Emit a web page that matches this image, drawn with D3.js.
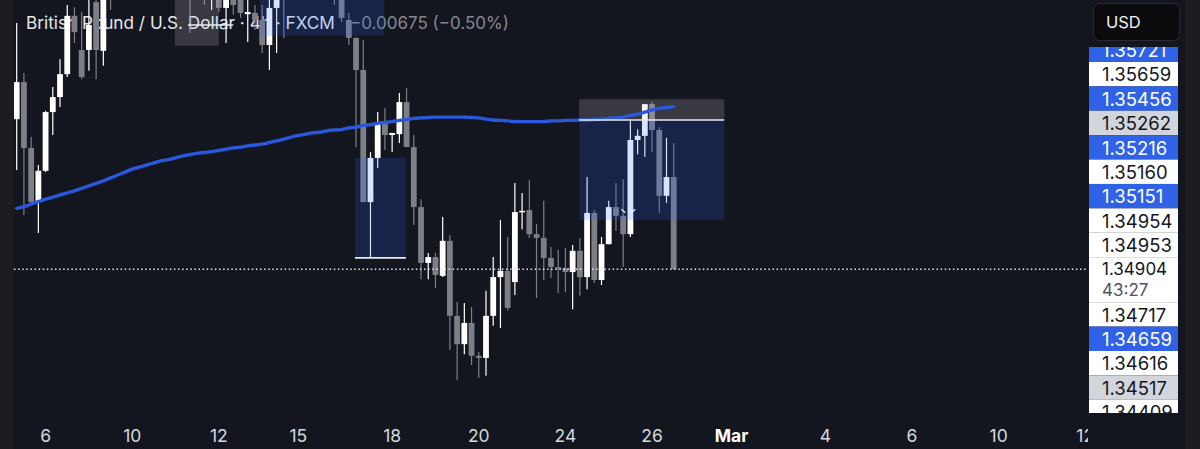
<!DOCTYPE html>
<html><head><meta charset="utf-8">
<script src="https://cdn.jsdelivr.net/npm/d3@7"></script>
<style>html,body{margin:0;padding:0;background:#14161f;}svg{display:block;}</style>
</head><body>
<script>
// ---- data (GBPUSD 4h, FXCM) ----
const openP = [
1.35264,1.35353,1.35195,1.35065,1.35140,1.35281,1.35317,1.35372,1.35512,1.35430,
1.35430,1.35545,1.35428,1.35610,1.35575,1.35620,1.35680,1.35640,1.35700,1.35660,
1.35620,1.35680,1.35640,1.35610,1.35622,1.35562,1.35600,1.35580,1.35586,1.35531,
1.35574,1.35555,1.35516,1.35519,1.35502,1.35442,1.35531,1.35574,1.35560,1.35610,
1.35650,1.35620,1.35590,1.35630,1.35598,1.35550,1.35502,1.35459,1.35382,1.35065,
1.35171,1.35255,1.35226,1.35228,1.35305,1.35197,1.35053,1.34919,1.34933,1.34888,
1.34972,1.34792,1.34724,1.34775,1.34696,1.34691,1.34792,1.34885,1.34900,1.34873,
1.35041,1.35046,1.34988,1.34979,1.34931,1.34909,1.34907,1.34897,1.34948,1.34885,
1.35039,1.34878,1.34964,1.35053,1.35032,1.34988,1.35214,1.35224,1.35300,1.35238,
1.35080,1.35125];
const highP = [
1.35495,1.35375,1.35221,1.35154,1.35284,1.35341,1.35408,1.35538,1.35533,1.35521,
1.35562,1.35574,1.35598,1.35646,1.35650,1.35700,1.35710,1.35720,1.35730,1.35690,
1.35700,1.35700,1.35660,1.35670,1.35646,1.35620,1.35615,1.35610,1.35610,1.35598,
1.35586,1.35569,1.35574,1.35538,1.35538,1.35562,1.35598,1.35598,1.35630,1.35680,
1.35670,1.35640,1.35650,1.35650,1.35622,1.35562,1.35519,1.35460,1.35454,1.35185,
1.35281,1.35291,1.35231,1.35327,1.35339,1.35226,1.35072,1.34943,1.34943,1.35029,
1.34986,1.34825,1.34823,1.34813,1.34705,1.34852,1.34933,1.35022,1.34981,1.35111,
1.35087,1.35118,1.35012,1.35068,1.34957,1.34950,1.34955,1.34962,1.34979,1.35125,
1.35046,1.34981,1.35068,1.35111,1.35120,1.35262,1.35240,1.35300,1.35305,1.35245,
1.35219,1.35207];
const lowP = [
1.35142,1.35034,1.35058,1.34991,1.35137,1.35226,1.35293,1.35365,1.35447,1.35360,
1.35380,1.35360,1.35392,1.35526,1.35565,1.35600,1.35610,1.35620,1.35640,1.35590,
1.35600,1.35610,1.35575,1.35580,1.35471,1.35555,1.35538,1.35526,1.35521,1.35447,
1.35514,1.35507,1.35449,1.35478,1.35423,1.35382,1.35423,1.35459,1.35556,1.35590,
1.35600,1.35570,1.35575,1.35580,1.35538,1.35497,1.35442,1.35197,1.35065,1.34931,
1.35147,1.35190,1.35185,1.35207,1.35197,1.35010,1.34880,1.34880,1.34859,1.34885,
1.34710,1.34638,1.34700,1.34674,1.34643,1.34648,1.34768,1.34763,1.34804,1.34842,
1.35000,1.34979,1.34835,1.34878,1.34883,1.34847,1.34849,1.34808,1.34840,1.34856,
1.34871,1.34866,1.34964,1.34996,1.34909,1.34981,1.35180,1.35173,1.35185,1.35039,
1.35063,1.34904];
const closeP = [
1.35353,1.35195,1.35065,1.35140,1.35281,1.35317,1.35372,1.35512,1.35473,1.35365,
1.35490,1.35430,1.35562,1.35569,1.35620,1.35680,1.35640,1.35700,1.35660,1.35620,
1.35680,1.35640,1.35610,1.35650,1.35562,1.35600,1.35580,1.35595,1.35531,1.35574,
1.35538,1.35519,1.35521,1.35502,1.35442,1.35531,1.35574,1.35555,1.35610,1.35650,
1.35620,1.35590,1.35630,1.35600,1.35550,1.35507,1.35459,1.35382,1.35065,1.35171,
1.35255,1.35226,1.35231,1.35305,1.35197,1.35053,1.34919,1.34933,1.34890,1.34972,
1.34792,1.34724,1.34775,1.34696,1.34691,1.34792,1.34885,1.34900,1.34811,1.35041,
1.35044,1.34988,1.34979,1.34931,1.34909,1.34907,1.34897,1.34948,1.34885,1.35039,
1.34878,1.34964,1.35053,1.35032,1.34988,1.35214,1.35224,1.35300,1.35238,1.35080,
1.35125,1.34904];
const maP = [
1.35050,1.35054,1.35060,1.35066,1.35072,1.35077,1.35082,1.35087,1.35092,1.35098,
1.35104,1.35110,1.35116,1.35123,1.35130,1.35137,1.35144,1.35149,1.35154,1.35159,
1.35164,1.35167,1.35171,1.35176,1.35179,1.35182,1.35184,1.35186,1.35189,1.35192,
1.35195,1.35197,1.35200,1.35202,1.35204,1.35208,1.35212,1.35216,1.35221,1.35225,
1.35228,1.35231,1.35233,1.35236,1.35238,1.35239,1.35243,1.35245,1.35249,1.35251,
1.35254,1.35256,1.35258,1.35261,1.35263,1.35266,1.35267,1.35268,1.35269,1.35269,
1.35269,1.35269,1.35269,1.35268,1.35267,1.35264,1.35262,1.35261,1.35260,1.35258,
1.35258,1.35258,1.35258,1.35258,1.35260,1.35260,1.35261,1.35261,1.35262,1.35262,
1.35263,1.35264,1.35266,1.35267,1.35269,1.35273,1.35276,1.35281,1.35286,1.35290,
1.35292,1.35294];

const xTickIdx = [4,16,28,39,52,64,76,88,99,112,124,136,148];
const xTickLabels = ["6","10","12","15","18","20","24","26","Mar","4","6","10","12"];

const priceLabels = ["1.35721","1.35659","1.35456","1.35262","1.35216","1.35160","1.35151","1.34954","1.34953","1.34904","1.34717","1.34659","1.34616","1.34517","1.34409"];
const priceLabelKind = ["blue","white","blue","grey","blue","white","blue","white","white","current","white","blue","white","grey","white"];
const countdown = "43:27";
const lastPrice = 1.34904;

// drawings: [x0idx, x1idx, priceTop, priceBottom, kind]
const drawBoxes = [
  [21.9, 28.0, 1.35620, 1.35440, "grey"],
  [33.7, 50.9, 1.35620, 1.35464, "blue"],
  [46.85, 53.9, 1.35171, 1.34931, "blue"],
  [77.9, 98.0, 1.35312, 1.35262, "grey"],
  [77.9, 98.0, 1.35262, 1.35022, "blue"]
];
const drawLines = [
  [23.7, 30.0, 1.35490],
  [46.85, 53.9, 1.34931],
  [77.9, 98.0, 1.35262]
];

// ---- layout ----
const W = 1200, H = 449;
const plotL = 14, plotR = 1088, plotB = 415;
const x = d3.scaleLinear().domain([0, 100]).range([16.7, 738.7]);
const y = d3.scaleLinear().domain([1.34554, 1.35550]).range([plotB, 0]);

const svg = d3.select("body").append("svg").attr("width", W).attr("height", H);
svg.append("rect").attr("width", W).attr("height", H).attr("fill", "#14161f");
svg.append("rect").attr("x", 0).attr("y", 0).attr("width", plotL).attr("height", H).attr("fill", "#1d1d21");
svg.append("rect").attr("x", 1185).attr("y", 0).attr("width", 15).attr("height", H).attr("fill", "#1c1c20");

const defs = svg.append("defs");
defs.append("clipPath").attr("id", "plot").append("rect")
  .attr("x", plotL).attr("y", 0).attr("width", plotR - plotL).attr("height", plotB + 5);
defs.append("clipPath").attr("id", "axisR").append("rect")
  .attr("x", 1085).attr("y", 47).attr("width", 100).attr("height", 366);
defs.append("clipPath").attr("id", "axisB").append("rect")
  .attr("x", plotL).attr("y", 415).attr("width", plotR - plotL).attr("height", 34);

const font = "Inter, 'Noto Sans', sans-serif";

// legend
svg.append("text").attr("x", 26).attr("y", 29)
  .attr("font-family", font).attr("font-size", 17.2).attr("fill", "#e6e8ee")
  .text("British Pound / U.S. Dollar · 4h · FXCM");
svg.append("text").attr("x", 350).attr("y", 29)
  .attr("font-family", font).attr("font-size", 17).attr("fill", "#868993")
  .text("\u22120.00675 (\u22120.50%)");

const plot = svg.append("g").attr("clip-path", "url(#plot)");

// candles
const idx = d3.range(openP.length);
const up = i => closeP[i] >= openP[i];
const colUp = "#ffffff", colDn = "#7d7f87";
const bw = 5.8;
plot.append("g").selectAll("line").data(idx).join("line")
  .attr("x1", i => x(i)).attr("x2", i => x(i))
  .attr("y1", i => y(highP[i])).attr("y2", i => y(lowP[i]))
  .attr("stroke", i => up(i) ? colUp : colDn).attr("stroke-width", 1.2);
plot.append("g").selectAll("rect").data(idx).join("rect")
  .attr("x", i => x(i) - bw / 2).attr("width", bw)
  .attr("y", i => y(Math.max(openP[i], closeP[i])))
  .attr("height", i => Math.max(1.5, Math.abs(y(openP[i]) - y(closeP[i]))))
  .attr("fill", i => up(i) ? colUp : colDn);

// drawings
plot.append("g").selectAll("rect").data(drawBoxes).join("rect")
  .attr("x", d => x(d[0])).attr("width", d => x(d[1]) - x(d[0]))
  .attr("y", d => y(d[2])).attr("height", d => y(d[3]) - y(d[2]))
  .attr("fill", d => d[4] === "blue" ? "rgba(41,98,255,0.18)" : "rgba(200,202,212,0.2)");

// moving average
plot.append("path").datum(idx)
  .attr("d", d3.line().x(i => x(i)).y(i => y(maP[i])).curve(d3.curveMonotoneX))
  .attr("fill", "none").attr("stroke", "#2a58dc").attr("stroke-width", 3.4)
  .attr("stroke-linecap", "round");

plot.append("g").selectAll("line").data(drawLines).join("line")
  .attr("x1", d => x(d[0])).attr("x2", d => x(d[1]))
  .attr("y1", d => y(d[2])).attr("y2", d => y(d[2]))
  .attr("stroke", "#e8eaf0").attr("stroke-width", 1.6);

// small chevron marker
const cx = x(84.3), cy = y(1.35043);
plot.append("path")
  .attr("d", `M${cx-4},${cy-2} l4,3.5 M${cx+6},${cy+1.5} l4,-3.5`)
  .attr("stroke", "#e8eaf0").attr("stroke-width", 1.2).attr("fill", "none");

// last price dotted line
plot.append("line").attr("x1", plotL).attr("x2", plotR)
  .attr("y1", y(lastPrice)).attr("y2", y(lastPrice))
  .attr("stroke", "#e6e6ea").attr("stroke-width", 1.5).attr("stroke-dasharray", "1.5,2.6");

// x-axis labels
const xa = svg.append("g").attr("clip-path", "url(#axisB)");
xa.selectAll("text").data(xTickIdx).join("text")
  .attr("x", d => x(d)).attr("y", 435).attr("text-anchor", "middle").attr("dominant-baseline", "central")
  .attr("font-family", font).attr("font-size", 17.5)
  .attr("font-weight", (d, i) => xTickLabels[i] === "Mar" ? 700 : 400)
  .attr("fill", (d, i) => xTickLabels[i] === "Mar" ? "#ffffff" : "#d6d8de")
  .text((d, i) => xTickLabels[i]);

// price labels stacked around the last price
const pitch = 24.4, curH = 45;
const curI = priceLabelKind.indexOf("current");
const curTop = y(lastPrice) - 12;
const tops = priceLabels.map((p, i) => i < curI ? curTop - pitch * (curI - i) : i === curI ? curTop : curTop + curH + pitch * (i - curI - 1));
const fills = {blue: "#2f62e6", white: "#ffffff", grey: "#d3d5dc", current: "#ffffff"};
const txt = {blue: "#ffffff", white: "#131722", grey: "#131722", current: "#131722"};
const pa = svg.append("g").attr("clip-path", "url(#axisR)");
pa.selectAll("rect").data(priceLabels).join("rect")
  .attr("x", 1089).attr("width", 89)
  .attr("y", (d, i) => tops[i]).attr("height", (d, i) => i === curI ? curH : pitch)
  .attr("fill", (d, i) => fills[priceLabelKind[i]]);
pa.selectAll("text.pl").data(priceLabels).join("text").attr("class", "pl")
  .attr("x", 1102).attr("y", (d, i) => i === curI ? tops[i] + 11.5 : tops[i] + 12.4).attr("dominant-baseline", "central")
  .attr("font-family", font).attr("font-size", (d, i) => i === curI ? 17 : 18.5)
  .attr("fill", (d, i) => txt[priceLabelKind[i]]).text(d => d);
pa.append("text").attr("x", 1102).attr("y", curTop + 33).attr("dominant-baseline", "central")
  .attr("font-family", font).attr("font-size", 17).attr("fill", "#50535e").text(countdown);

// USD button
svg.append("rect").attr("x", 1093.5).attr("y", 3.5).attr("width", 86).attr("height", 37).attr("rx", 6)
  .attr("fill", "#0b0b0d").attr("stroke", "#2a2b30");
svg.append("text").attr("x", 1106).attr("y", 22).attr("dominant-baseline", "central")
  .attr("font-family", font).attr("font-size", 16.5).attr("fill", "#f0f0f2").text("USD");
</script>
</body></html>
